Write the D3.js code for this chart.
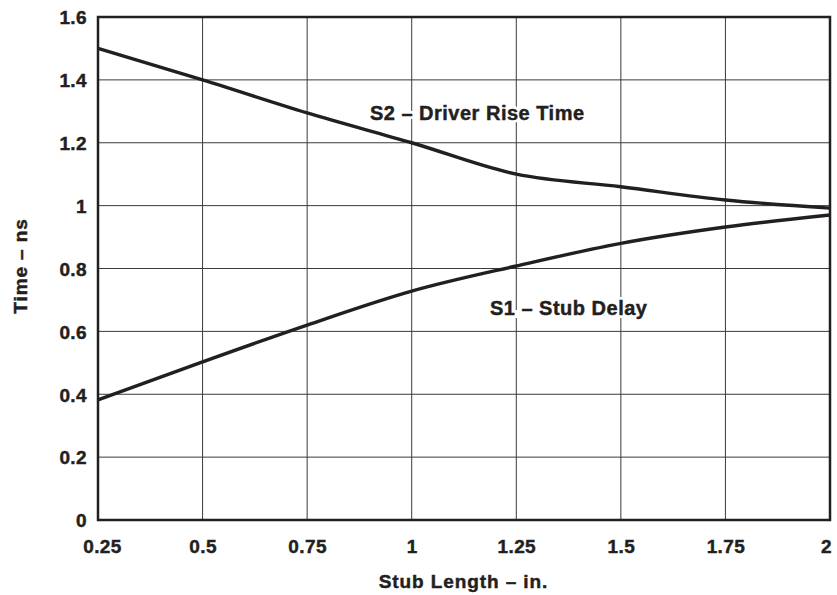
<!DOCTYPE html>
<html><head><meta charset="utf-8">
<script src="https://cdn.jsdelivr.net/npm/d3@7"></script>
<style>
body{margin:0;background:#fff;}
text{font-family:"Liberation Sans",Arial,sans-serif;font-weight:bold;fill:#231f20;}
.ink{stroke:#231f20;stroke-width:0.45px;}
</style></head>
<body><svg id="c" width="837" height="595"></svg>
<script>
const stubLength = [0.25, 0.5, 0.75, 1.0, 1.25, 1.5, 1.75, 2.0];
const s2DriverRise = [1.5, 1.4, 1.295, 1.2, 1.1, 1.06, 1.018, 0.992];
const s1StubDelay = [0.382, 0.503, 0.62, 0.728, 0.808, 0.88, 0.932, 0.97];
const xTicks = [0.25, 0.5, 0.75, 1.0, 1.25, 1.5, 1.75, 2.0];
const xTickLabels = ["0.25", "0.5", "0.75", "1", "1.25", "1.5", "1.75", "2"];
const yTicks = [0, 0.2, 0.4, 0.6, 0.8, 1.0, 1.2, 1.4, 1.6];
const yTickLabels = ["0", "0.2", "0.4", "0.6", "0.8", "1", "1.2", "1.4", "1.6"];
const seriesLabels = ["S2 \u2013 Driver Rise Time", "S1 \u2013 Stub Delay"];

const L = 98, R = 830, T = 17, B = 520;
const svg = d3.select("#c");
const x = d3.scaleLinear().domain([0.25, 2]).range([L, R]);
const y = d3.scaleLinear().domain([0, 1.6]).range([B, T]);

// grid
svg.append("g").selectAll("line").data(xTicks.slice(1, -1)).join("line")
  .attr("x1", d => x(d)).attr("x2", d => x(d)).attr("y1", T).attr("y2", B)
  .attr("stroke", "#3a3a3a").attr("stroke-width", 1);
svg.append("g").selectAll("line").data(yTicks.slice(1, -1)).join("line")
  .attr("y1", d => y(d)).attr("y2", d => y(d)).attr("x1", L).attr("x2", R)
  .attr("stroke", "#3a3a3a").attr("stroke-width", 1);

// axes labels via d3 axes
const xAxis = svg.append("g").attr("transform", `translate(0,${B})`)
  .call(d3.axisBottom(x).tickValues(xTicks).tickSize(0).tickPadding(0)
    .tickFormat((d, i) => xTickLabels[i]));
xAxis.select(".domain").remove();
xAxis.selectAll("text").attr("y", 33).attr("dy", null).attr("class", "ink")
  .style("font-size", "19px").style("letter-spacing", "0.4px")
  .attr("dx", (d, i) => i === 0 ? 4 : (i === xTicks.length - 1 ? -4 : 0));

const yAxis = svg.append("g").attr("transform", `translate(${L},0)`)
  .call(d3.axisLeft(y).tickValues(yTicks).tickSize(0).tickPadding(11)
    .tickFormat((d, i) => yTickLabels[i]));
yAxis.select(".domain").remove();
yAxis.selectAll("text").attr("dy", "0.36em").attr("class", "ink")
  .style("font-size", "19px").style("letter-spacing", "0.4px");

// curves
const line = d3.line().x(d => x(d[0])).y(d => y(d[1])).curve(d3.curveMonotoneX);
[s2DriverRise, s1StubDelay].forEach(vals => {
  svg.append("path").datum(stubLength.map((s, i) => [s, vals[i]]))
    .attr("d", line).attr("fill", "none").attr("stroke", "#231f20")
    .attr("stroke-width", 3.4).attr("stroke-linejoin", "round");
});

// frame
svg.append("rect").attr("x", L).attr("y", T).attr("width", R - L).attr("height", B - T)
  .attr("fill", "none").attr("stroke", "#231f20").attr("stroke-width", 2.5);

// series labels
const lab = [[seriesLabels[0], 0.9, 1.272], [seriesLabels[1], 1.187, 0.652]];
const lg = svg.append("g");
lg.selectAll("text.halo").data(lab).join("text").attr("class", "halo")
  .attr("x", d => x(d[1])).attr("y", d => y(d[2])).text(d => d[0])
  .style("font-size", "20px").style("letter-spacing", "0.5px")
  .attr("stroke", "#fff").attr("stroke-width", 6).style("fill", "#fff");
lg.selectAll("text.lbl").data(lab).join("text").attr("class", "lbl ink")
  .attr("x", d => x(d[1])).attr("y", d => y(d[2])).text(d => d[0])
  .style("font-size", "20px").style("letter-spacing", "0.5px");

// axis titles
svg.append("text").attr("class", "ink").attr("x", 463.5).attr("y", 588).attr("text-anchor", "middle")
  .style("font-size", "19px").style("letter-spacing", "0.9px").text("Stub Length \u2013 in.");
svg.append("text").attr("class", "ink").attr("transform", "translate(27,266) rotate(-90)").attr("text-anchor", "middle")
  .style("font-size", "19px").style("letter-spacing", "0.9px").text("Time \u2013 ns");
</script></body></html>
